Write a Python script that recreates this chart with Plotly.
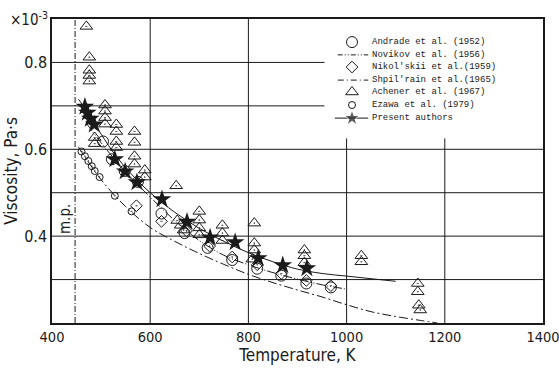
import plotly.graph_objects as go

# ---------------- data: liquid lithium viscosity (x 10^-3 Pa s) ----------------
andrade_T = [504, 522, 548, 575, 623, 670, 717, 767, 818, 867, 918, 968]
andrade_mu = [0.618, 0.577, 0.550, 0.525, 0.452, 0.407, 0.373, 0.345, 0.325, 0.309, 0.291, 0.282]

nikolskii_T = [572, 623, 674, 721, 767, 818, 867, 918, 968]
nikolskii_mu = [0.470, 0.434, 0.412, 0.377, 0.352, 0.334, 0.314, 0.298, 0.286]

achener_T = [470, 476, 476, 476, 476, 487, 487, 508, 508, 508, 508, 531, 531, 531, 531,
             568, 568, 568, 568, 589, 589, 653, 655, 662, 668, 700, 700, 700, 700,
             747, 747, 747, 812, 812, 812, 808, 914, 914, 914, 1030, 1030,
             1145, 1145, 1147, 1150]
achener_mu = [0.883, 0.812, 0.782, 0.770, 0.757, 0.627, 0.613, 0.702, 0.688, 0.673, 0.658,
              0.657, 0.641, 0.618, 0.604, 0.641, 0.616, 0.584, 0.566, 0.552, 0.536,
              0.516, 0.436, 0.425, 0.414, 0.457, 0.437, 0.419, 0.403,
              0.425, 0.407, 0.390, 0.430, 0.384, 0.368, 0.347, 0.368, 0.355, 0.339,
              0.355, 0.341, 0.291, 0.272, 0.241, 0.230]

ezawa_T = [460, 467, 474, 481, 487, 497, 528, 562]
ezawa_mu = [0.595, 0.584, 0.573, 0.561, 0.550, 0.536, 0.493, 0.457]

present_T = [467, 472, 478, 486, 528, 549, 573, 624, 675, 722, 773, 820, 870, 919]
present_mu = [0.698, 0.684, 0.670, 0.657, 0.577, 0.549, 0.524, 0.485, 0.433, 0.397,
              0.386, 0.349, 0.333, 0.326]

# fitted curves
present_fit_T = [454, 470, 500, 530, 560, 600, 650, 700, 750, 800, 850, 900, 950, 1000, 1050, 1100]
present_fit_mu = [0.715, 0.690, 0.635, 0.585, 0.545, 0.500, 0.455, 0.418, 0.388, 0.362,
                  0.341, 0.324, 0.314, 0.308, 0.302, 0.296]

novikov_T = [470, 500, 550, 600, 650, 700, 750, 800, 850, 900, 950, 1000]
novikov_mu = [0.660, 0.615, 0.548, 0.490, 0.436, 0.390, 0.356, 0.334, 0.316, 0.301, 0.288, 0.278]

shpilrain_T = [454, 500, 550, 600, 650, 700, 750, 800, 850, 900, 950, 1000, 1050, 1100, 1150, 1185]
shpilrain_mu = [0.605, 0.530, 0.468, 0.420, 0.388, 0.360, 0.335, 0.312, 0.293, 0.276,
                0.260, 0.242, 0.226, 0.215, 0.206, 0.200]

melting_point = 447

x_ticks = [400, 600, 800, 1000, 1200, 1400]
y_ticks = [0.4, 0.6, 0.8]
grid_T = [600, 800, 1000, 1200]
grid_mu = [0.3, 0.4, 0.5, 0.6, 0.7, 0.8]

legend_labels = ["Andrade et al. (1952)", "Novikov et al. (1956)", "Nikol'skii et al.(1959)",
                 "Shpil'rain et al.(1965)", "Achener et al. (1967)", "Ezawa et al. (1979)",
                 "Present authors"]

# ---------------- styling ----------------
INK = "#1a1a1a"
NARROW = "DejaVu Sans Condensed, Roboto Condensed, sans-serif"
MONO = "Liberation Mono, DejaVu Sans Mono, monospace"
DASH_NOVIKOV = "9px,2px,1px,2px,1px,2px"
DASH_SHPIL = "9px,3px,2px,3px"
X_RANGE = [400, 1400]
Y_RANGE = [0.2, 0.9]
KEY_CLEAR_T = 955      # blank key area: right of this temperature ...
KEY_CLEAR_MU = 0.625   # ... and above this viscosity

sym = dict(
    andrade=dict(symbol="circle-open", size=11, line=dict(width=1, color=INK), color=INK),
    nikolskii=dict(symbol="diamond-open-dot", size=9, line=dict(width=1, color=INK), color=INK),
    achener=dict(symbol="triangle-up-open-dot", size=11, line=dict(width=1, color=INK), color=INK),
    ezawa=dict(symbol="circle-open-dot", size=7, line=dict(width=1, color=INK), color=INK),
    present=dict(symbol="star", size=14, color=INK, line=dict(width=0)),
)

fig = go.Figure()

# fitted lines
fig.add_trace(go.Scatter(x=shpilrain_T, y=shpilrain_mu, mode="lines", line_shape="spline",
                         line=dict(color=INK, width=1, dash=DASH_SHPIL), showlegend=False))
fig.add_trace(go.Scatter(x=novikov_T, y=novikov_mu, mode="lines", line_shape="spline",
                         line=dict(color=INK, width=1, dash=DASH_NOVIKOV), showlegend=False))
fig.add_trace(go.Scatter(x=present_fit_T, y=present_fit_mu, mode="lines", line_shape="spline",
                         line=dict(color=INK, width=1), showlegend=False))

# measurements
fig.add_trace(go.Scatter(x=achener_T, y=achener_mu, mode="markers", marker=sym["achener"], showlegend=False))
fig.add_trace(go.Scatter(x=andrade_T, y=andrade_mu, mode="markers", marker=sym["andrade"], showlegend=False))
fig.add_trace(go.Scatter(x=nikolskii_T, y=nikolskii_mu, mode="markers", marker=sym["nikolskii"], showlegend=False))
fig.add_trace(go.Scatter(x=ezawa_T, y=ezawa_mu, mode="markers", marker=sym["ezawa"], showlegend=False))
fig.add_trace(go.Scatter(x=present_T, y=present_mu, mode="markers", marker=sym["present"], showlegend=False))

# grid lines, kept clear of the key area
shapes = []
for t in grid_T:
    top = KEY_CLEAR_MU if t > KEY_CLEAR_T else Y_RANGE[1]
    shapes.append(dict(type="line", xref="x", yref="y", x0=t, x1=t, y0=Y_RANGE[0], y1=top,
                       line=dict(color=INK, width=1), layer="below"))
for m in grid_mu:
    right = KEY_CLEAR_T if m > KEY_CLEAR_MU else X_RANGE[1]
    shapes.append(dict(type="line", xref="x", yref="y", x0=X_RANGE[0], x1=right, y0=m, y1=m,
                       line=dict(color=INK, width=1), layer="below"))
# melting point marker
shapes.append(dict(type="line", xref="x", yref="y", x0=melting_point, x1=melting_point,
                   y0=Y_RANGE[0], y1=Y_RANGE[1], line=dict(color=INK, width=1, dash="6px,2px,1px,2px"),
                   layer="below"))

# ---------------- key (drawn on an overlay axis spanning the plot area) ----------------
key_rows = [0.924, 0.882, 0.842, 0.799, 0.760, 0.717, 0.674]
key_sym_x = 0.611
key_line = [0.582, 0.644]
key_text_x = 0.648
kx2 = dict(xaxis="x2", yaxis="y2", showlegend=False, hoverinfo="skip")

fig.add_trace(go.Scatter(x=[key_sym_x], y=[key_rows[0]], mode="markers", marker=sym["andrade"], **kx2))
fig.add_trace(go.Scatter(x=key_line, y=[key_rows[1]] * 2, mode="lines",
                         line=dict(color=INK, width=1, dash="5px,2px,1px,2px,1px,2px"), **kx2))
fig.add_trace(go.Scatter(x=[key_sym_x], y=[key_rows[2]], mode="markers",
                         marker=dict(sym["nikolskii"], symbol="diamond-open"), **kx2))
fig.add_trace(go.Scatter(x=key_line, y=[key_rows[3]] * 2, mode="lines",
                         line=dict(color=INK, width=1, dash="6px,3px,1px,3px"), **kx2))
fig.add_trace(go.Scatter(x=[key_sym_x], y=[key_rows[4]], mode="markers",
                         marker=dict(sym["achener"], symbol="triangle-up-open"), **kx2))
fig.add_trace(go.Scatter(x=[key_sym_x], y=[key_rows[5]], mode="markers",
                         marker=dict(sym["ezawa"], symbol="circle-open"), **kx2))
fig.add_trace(go.Scatter(x=[key_line[0] - 0.006, key_sym_x, key_line[1]], y=[key_rows[6]] * 3,
                         mode="lines+markers", line=dict(color=INK, width=1),
                         marker=dict(symbol=["line-ew", "star", "line-ew"], size=[0, 12, 0], color=INK),
                         **kx2))

annotations = []
for label, yy in zip(legend_labels, key_rows):
    annotations.append(dict(xref="paper", yref="paper", x=key_text_x, y=yy, text=label,
                            showarrow=False, xanchor="left", yanchor="middle",
                            font=dict(family=MONO, size=9, color=INK)))
annotations.append(dict(xref="paper", yref="paper", x=-0.005, y=1.0, text="×10<sup>-3</sup>",
                        showarrow=False, xanchor="right", yanchor="middle",
                        font=dict(family=NARROW, size=15, color=INK)))
annotations.append(dict(xref="x", yref="y", x=427, y=0.44, text="m.p.", textangle=-90,
                        showarrow=False, font=dict(family=NARROW, size=15, color=INK)))

fig.update_layout(
    width=559, height=374,
    margin=dict(l=52, r=16, t=19, b=51),
    paper_bgcolor="white", plot_bgcolor="white",
    font=dict(family=NARROW, size=17, color=INK),
    shapes=shapes, annotations=annotations,
    xaxis=dict(range=X_RANGE, tickvals=x_ticks, showgrid=False, zeroline=False,
               showline=True, mirror=True, linecolor=INK, linewidth=1.5, ticks="",
               tickfont=dict(size=14.5), ticklabeloverflow="allow", automargin=False,
               title=dict(text="Temperature, K", standoff=4, font=dict(size=17))),
    yaxis=dict(range=Y_RANGE, tickvals=y_ticks, ticktext=[f"{v:.1f}" for v in y_ticks],
               showgrid=False, zeroline=False, showline=True, mirror=True,
               linecolor=INK, linewidth=1.5, ticks="", automargin=False,
               tickfont=dict(size=16),
               title=dict(text="Viscosity, Pa·s", standoff=2, font=dict(size=17))),
    xaxis2=dict(range=[0, 1], overlaying="x", visible=False, fixedrange=True),
    yaxis2=dict(range=[0, 1], overlaying="y", visible=False, fixedrange=True),
)

fig.write_html("out.html")
